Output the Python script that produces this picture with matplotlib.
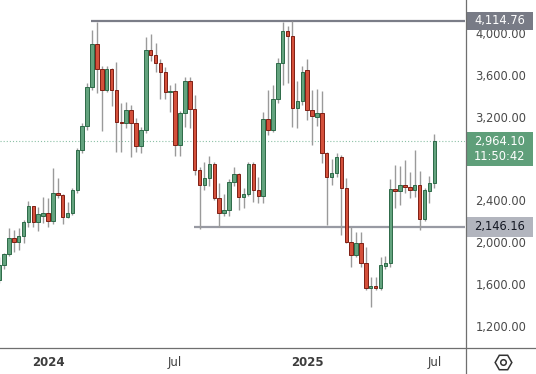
import numpy as np
import pandas as pd
import matplotlib.pyplot as plt
import matplotlib.transforms as mtransforms
from matplotlib.patches import Rectangle
from matplotlib.lines import Line2D

# Weekly candles, Oct 2023 - Jul 2025
dates = pd.date_range("2023-10-23", periods=90, freq="W-MON")

opens = [1640, 1784, 1889, 2042, 2004, 2062, 2195, 2348, 2195, 2255,
         2279, 2205, 2473, 2455, 2243, 2281, 2501, 2884, 3114, 3487,
         3889, 3650, 3458, 3650, 3458, 3152, 3140, 3267, 3143, 2922,
         3075, 3832, 3784, 3707, 3621, 3430, 3440, 2932, 3238, 3535,
         3276, 2693, 2549, 2616, 2750, 2425, 2281, 2310, 2578, 2654,
         2434, 2463, 2750, 2501, 2444, 3181, 3076, 3363, 3716, 4013,
         3965, 3286, 3353, 3640, 3267, 3200, 3230, 2855, 2626, 2664,
         2817, 2520, 2004, 1879, 1994, 1803, 1564, 1584, 1565, 1774,
         1803, 2510, 2492, 2549, 2530, 2501, 2549, 2224, 2492, 2568]
highs = [1860, 1900, 2138, 2118, 2138, 2214, 2396, 2350, 2339, 2434,
         2425, 2712, 2616, 2463, 2386, 2520, 2900, 3140, 3525, 4023,
         4106, 3680, 3681, 3660, 3725, 3330, 3343, 3315, 3190, 3104,
         3956, 3985, 3899, 3745, 3678, 3506, 3520, 3250, 3573, 3573,
         3410, 2721, 2770, 2820, 2765, 2568, 2460, 2600, 2720, 2665,
         2520, 2769, 2769, 2626, 3248, 3449, 3500, 3760, 4100, 4060,
         4114, 3540, 3680, 3745, 3450, 3460, 3440, 2865, 2798, 2850,
         2836, 2616, 2147, 2100, 2100, 1955, 1669, 1669, 1860, 1870,
         2600, 2741, 2731, 2788, 2673, 2884, 2683, 2520, 2635, 3037]
lows = [1610, 1740, 1870, 1908, 1927, 1994, 2147, 2147, 2109, 2185,
        2147, 2176, 2425, 2176, 2230, 2262, 2470, 2850, 3075, 3458,
        3427, 3059, 3430, 3300, 2865, 2865, 3095, 2817, 2865, 2855,
        3047, 3726, 3621, 3363, 3363, 3248, 2820, 2820, 3104, 3095,
        2645, 2128, 2501, 2540, 2400, 2147, 2252, 2252, 2539, 2310,
        2329, 2440, 2387, 2377, 2377, 3028, 3050, 3330, 3506, 3520,
        3104, 3090, 3310, 3171, 2932, 3110, 2760, 2160, 2549, 2620,
        2070, 1994, 1765, 1860, 1765, 1540, 1382, 1540, 1540, 1740,
        1765, 2329, 2358, 2473, 2425, 2435, 2119, 2200, 2377, 2520]
closes = [1784, 1889, 2042, 2004, 2062, 2195, 2348, 2195, 2265, 2279,
          2205, 2473, 2455, 2243, 2281, 2501, 2884, 3114, 3487, 3889,
          3650, 3450, 3650, 3458, 3152, 3140, 3267, 3143, 2922, 3075,
          3832, 3784, 3707, 3621, 3430, 3440, 2932, 3238, 3535, 3276,
          2693, 2549, 2616, 2750, 2425, 2281, 2310, 2578, 2654, 2434,
          2463, 2750, 2501, 2444, 3181, 3076, 3363, 3716, 4013, 3965,
          3286, 3353, 3630, 3267, 3210, 3238, 2855, 2626, 2664, 2817,
          2520, 2004, 1879, 1994, 1803, 1564, 1584, 1565, 1784, 1803,
          2510, 2492, 2549, 2530, 2501, 2549, 2224, 2501, 2568, 2964.10]

# 2,800 sits under the last-price label, so it is not shown
price_ticks = [1200, 1600, 2000, 2400, 3200, 3600, 4000]
resistance = 4114.76
support = 2146.16
last_price = 2964.10
countdown = "11:50:42"

df = pd.DataFrame({"open": opens, "high": highs, "low": lows, "close": closes}, index=dates)
x = np.arange(len(df))
up = df["close"] >= df["open"]

W, H = 536, 374
fig = plt.figure(figsize=(W / 100, H / 100), dpi=100)
ax = fig.add_axes([0, 26 / H, 465 / W, 1 - 26 / H])

# wicks
ax.vlines(x, df["low"], df["high"], color="#9a9a9a", lw=1.0, zorder=2)
# bodies
green_face, green_edge = "#63a37e", "#2d6a48"
red_face, red_edge = "#d4503b", "#7e1f14"
body_lo = np.minimum(df["open"], df["close"])
body_h = np.maximum((df["close"] - df["open"]).abs(), 6)
ax.bar(x[up], body_h[up], bottom=body_lo[up], width=0.72,
       color=green_face, edgecolor=green_edge, lw=0.7, zorder=3)
ax.bar(x[~up], body_h[~up], bottom=body_lo[~up], width=0.72,
       color=red_face, edgecolor=red_edge, lw=0.7, zorder=3)

ax.set_xlim(0.18, 95.28)
ax.set_ylim(990, 4313)

# drawn levels
ax.hlines(resistance, 18.7, 95.28, color="#7b7d88", lw=1.6, zorder=1)
ax.hlines(support, 39.9, 95.28, color="#989aa3", lw=1.6, zorder=1)
ax.axhline(last_price, color="#8cc0a6", ls=(0, (1, 1.8)), lw=0.8, zorder=1)

for s in ax.spines.values():
    s.set_visible(False)

# price axis
ax.yaxis.tick_right()
ax.set_yticks(price_ticks)
ax.set_yticklabels([f"{v:,.2f}" for v in price_ticks])
ax.tick_params(axis="y", length=0, pad=7.5, labelsize=8.3, labelcolor="#4a4a4a")

# time axis: first bar of each period
tick_dates = ["2024-01-01", "2024-07-01", "2025-01-06", "2025-07-07"]
tick_labels = ["2024", "Jul", "2025", "Jul"]
tick_pos = [df.index.get_loc(pd.Timestamp(d)) for d in tick_dates]
ax.set_xticks(tick_pos)
ax.set_xticklabels(tick_labels)
ax.tick_params(axis="x", length=0, pad=6, labelsize=8.5, labelcolor="#3d3d3d")
for lab in ax.get_xticklabels():
    if lab.get_text().isdigit():
        lab.set_fontweight("bold")

# price labels on the axis
trans = mtransforms.blended_transform_factory(ax.transAxes, ax.transData)
upp = (4313 - 990) / (H - 26)  # price units per pixel
bx0, bw = 466 / 465, 67 / 465
bcx = bx0 + bw / 2


def price_box(val, lines, face, tcolor, above_px, below_px):
    ax.add_patch(Rectangle((bx0, val - below_px * upp), bw, (above_px + below_px) * upp,
                           transform=trans, facecolor=face, edgecolor="none",
                           clip_on=False, zorder=6))
    for i, t in enumerate(lines):
        ax.text(bcx, val - i * 15.5 * upp, t, transform=trans, ha="center", va="center",
                fontsize=8.3, color=tcolor, clip_on=False, zorder=7)


price_box(resistance, [f"{resistance:,.2f}"], "#787b86", "white", 9, 9)
price_box(support, [f"{support:,.2f}"], "#b2b5be", "#131722", 10, 10)
price_box(last_price, [f"{last_price:,.2f}", countdown], "#5f9f7a", "white", 9.5, 25)

# frame lines
fig.add_artist(Line2D([0, 1], [26 / H, 26 / H], color="#6f6f6f", lw=0.9))
fig.add_artist(Line2D([465.5 / W, 465.5 / W], [0, 1], color="#6f6f6f", lw=0.9))

# settings icon
fig.add_artist(Line2D([503 / W], [12 / H], marker="H", ms=12, mfc="none", mec="#333333", mew=1.1))
fig.add_artist(Line2D([503 / W], [12 / H], marker="o", ms=4, mfc="none", mec="#333333", mew=1.1))

fig.savefig("out.png", dpi=100)
